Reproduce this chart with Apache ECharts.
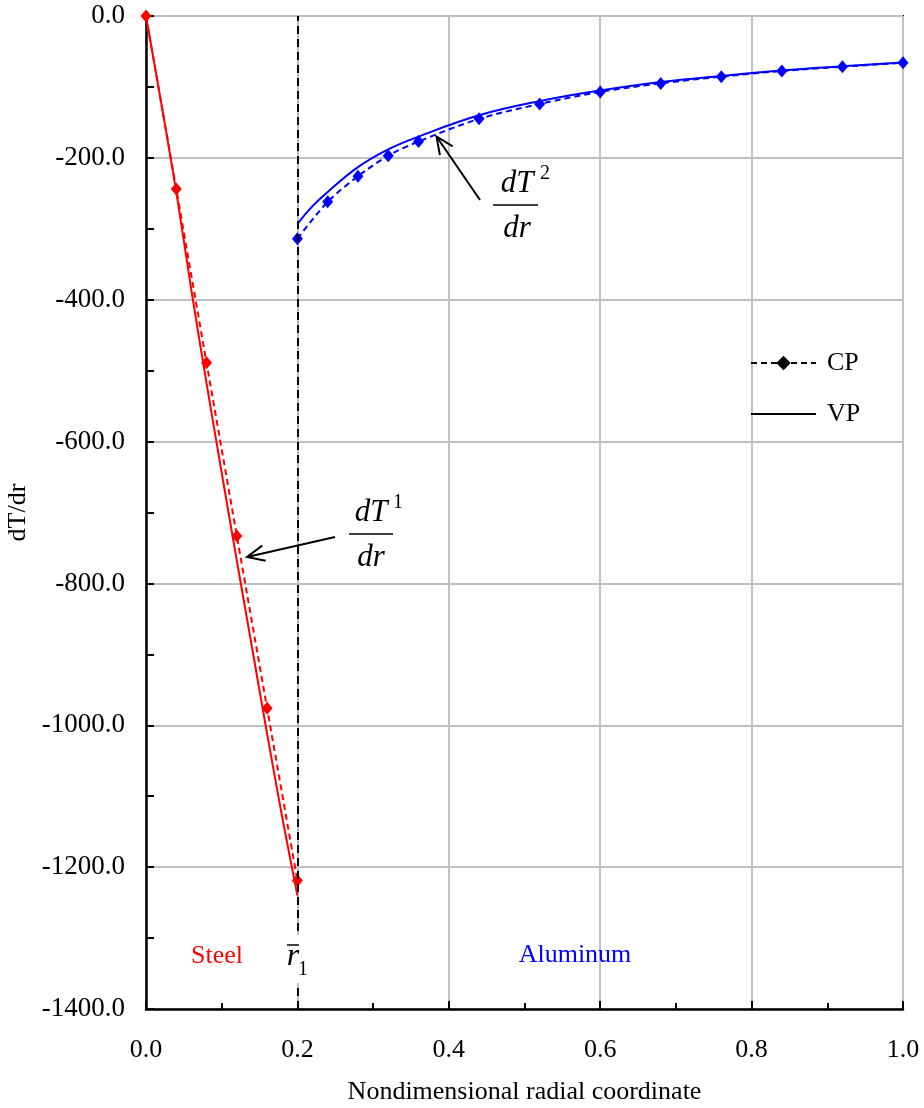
<!DOCTYPE html>
<html>
<head>
<meta charset="utf-8">
<script src="https://cdn.jsdelivr.net/npm/echarts@6/dist/echarts.min.js"></script>
<style>
html,body{margin:0;padding:0;background:#fff;}
#c{width:924px;height:1108px;}
</style>
</head>
<body>
<div id="c"></div>
<script>
// ---- data ----
const xTicks = [0.0, 0.2, 0.4, 0.6, 0.8, 1.0];
const yTicks = [0, -200, -400, -600, -800, -1000, -1200, -1400];
const interfaceR = 0.2;

const steelCP_x = [0, 0.04, 0.08, 0.12, 0.16, 0.20];
const steelCP_y = [0, -244, -489, -733, -976, -1219];

const steelVP_x = [0, 0.02, 0.04, 0.06, 0.08, 0.10, 0.12, 0.14, 0.16, 0.18, 0.20];
const steelVP_y = [0, -122, -248, -387, -518, -644, -768, -890, -1012, -1130, -1240];

const alCP_x = [0.20, 0.24, 0.28, 0.32, 0.36, 0.44, 0.52, 0.60, 0.68, 0.76, 0.84, 0.92, 1.00];
const alCP_y = [-314, -262, -226, -197, -177, -145, -124, -107, -95, -85.5, -77.5, -71.5, -66];

const alVP_x = [0.20, 0.22, 0.24, 0.28, 0.32, 0.36, 0.44, 0.52, 0.60, 0.68, 0.76, 0.84, 0.92, 1.00];
const alVP_y = [-293, -268, -248, -213, -188, -170, -140, -120, -105, -93, -84.5, -77, -71, -65.5];

const legendNames = ['CP', 'VP'];
const xTitle = 'Nondimensional radial coordinate';
const yTitle = 'dT/dr';

// ---- helpers ----
const zip = (xs, ys) => xs.map((x, i) => [x, ys[i]]);
const FONT = "'Liberation Serif','Times New Roman',serif";
const RED = '#ff0000', BLUE = '#0000ff';

function arrow(x1, y1, x2, y2) {
  const ang = Math.atan2(y1 - y2, x1 - x2);
  const L = 19, a = 0.42;
  const p1 = [x2 + L * Math.cos(ang + a), y2 + L * Math.sin(ang + a)];
  const p2 = [x2 + L * Math.cos(ang - a), y2 + L * Math.sin(ang - a)];
  return [
    {type: 'line', z: 100, shape: {x1, y1, x2, y2}, style: {stroke: '#000', lineWidth: 2}},
    {type: 'polyline', z: 100, shape: {points: [p1, [x2, y2], p2]}, style: {stroke: '#000', lineWidth: 2, fill: null}}
  ];
}
function txt(text, x, y, size, opts) {
  opts = opts || {};
  return {type: 'text', z: 101, x: x, y: y, style: {
    text: text, fontSize: size, fontFamily: FONT, fontStyle: opts.italic ? 'italic' : 'normal',
    fill: opts.color || '#000', align: 'center', verticalAlign: 'middle'}};
}
function frac(cx, numY, sup, supX, supY, barY, barX1, barX2, denY) {
  return [
    txt('dT', cx, numY, 31, {italic: true}),
    txt(sup, supX, supY, 20),
    {type: 'line', z: 100, shape: {x1: barX1, y1: barY, x2: barX2, y2: barY}, style: {stroke: '#000', lineWidth: 1.5}},
    txt('dr', cx, denY, 31, {italic: true})
  ];
}

const chart = echarts.init(document.getElementById('c'), null, {renderer: 'canvas'});

const graphics = [].concat(
  // dT2/dr
  frac(517, 184, '2', 545, 174, 205, 493, 538, 229),
  arrow(480, 200, 436.5, 136.5),
  // dT1/dr
  frac(371, 513, '1', 398, 503, 534, 349, 393, 558),
  arrow(335, 537, 247, 557),
  // Steel label
  [{type: 'rect', z: 99, shape: {x: 188, y: 938, width: 77, height: 30}, style: {fill: '#fff'}},
   txt('Steel', 217, 956, 26, {color: RED}),
   // r1 label box
   {type: 'rect', z: 99, shape: {x: 284, y: 935, width: 31, height: 48}, style: {fill: '#fff'}},
   txt('r', 293, 957, 32, {italic: true}),
   txt('1', 303, 970, 20),
   {type: 'line', z: 100, shape: {x1: 287, y1: 945, x2: 299, y2: 945}, style: {stroke: '#000', lineWidth: 1.5}},
   txt('Aluminum', 575, 955, 26, {color: BLUE})]
);

const option = {
  animation: false,
  backgroundColor: '#fff',
  grid: {left: 146, right: 21, top: 16, bottom: 99, outerBoundsMode: 'none', containLabel: false,
         show: true, borderColor: '#000', borderWidth: 2, backgroundColor: 'transparent'},
  legend: {
    data: [{name: 'CP'}, {name: 'VP', itemStyle: {opacity: 0, color: 'rgba(0,0,0,0)', borderWidth: 0}}],
    orient: 'vertical', left: 745, top: 345,
    itemWidth: 65, itemHeight: 18, itemGap: 25,
    textStyle: {fontSize: 26, fontFamily: FONT, color: '#000', padding: [0, 0, 0, 6]}
  },
  xAxis: {
    type: 'value', min: 0, max: 1, interval: 0.2,
    name: xTitle, nameLocation: 'middle', nameGap: 70,
    nameTextStyle: {fontSize: 26, fontFamily: FONT, color: '#000'},
    axisLine: {show: true, onZero: false, lineStyle: {color: '#000', width: 2.5}},
    axisTick: {show: true, inside: true, length: 8, lineStyle: {color: '#000', width: 2}},
    minorTick: {show: true, splitNumber: 2, length: 6, lineStyle: {color: '#000', width: 2}},
    axisLabel: {fontSize: 26, fontFamily: FONT, color: '#000', margin: 28, formatter: v => v.toFixed(1)},
    splitLine: {show: true, lineStyle: {color: '#c0c0c0', width: 2}}
  },
  yAxis: {
    type: 'value', min: -1400, max: 0, interval: 200,
    name: yTitle, nameLocation: 'middle', nameGap: 115, nameRotate: 90,
    nameTextStyle: {fontSize: 26, fontFamily: FONT, color: '#000'},
    axisLine: {show: true, onZero: false, lineStyle: {color: '#000', width: 2.5}},
    axisTick: {show: true, inside: true, length: 8, lineStyle: {color: '#000', width: 2}},
    minorTick: {show: true, splitNumber: 2, length: 8, lineStyle: {color: '#000', width: 2}},
    axisLabel: {fontSize: 27, fontFamily: FONT, color: '#000', margin: 21, formatter: v => v.toFixed(1)},
    splitLine: {show: true, lineStyle: {color: '#c0c0c0', width: 2}}
  },
  series: [
    {name: 'Steel VP', type: 'line', data: zip(steelVP_x, steelVP_y), smooth: 0.3, symbol: 'none',
     lineStyle: {color: RED, width: 2}, z: 3},
    {name: 'Steel CP', type: 'line', data: zip(steelCP_x, steelCP_y), symbol: 'diamond', symbolSize: [11, 13],
     itemStyle: {color: RED}, lineStyle: {color: RED, width: 2, type: [6, 4]}, z: 4,
     markLine: {silent: true, symbol: 'none', label: {show: false},
       lineStyle: {color: '#000', width: 2, type: [8, 5]}, data: [{xAxis: interfaceR}]}},
    {name: 'Al VP', type: 'line', data: zip(alVP_x, alVP_y), smooth: 0.4, symbol: 'none',
     lineStyle: {color: BLUE, width: 2}, z: 3},
    {name: 'Al CP', type: 'line', data: zip(alCP_x, alCP_y), smooth: 0.3, symbol: 'diamond', symbolSize: [11, 13],
     itemStyle: {color: BLUE}, lineStyle: {color: BLUE, width: 2, type: [6, 4]}, z: 4},
    {name: 'CP', type: 'line', data: [], symbol: 'diamond', symbolSize: [13, 15],
     itemStyle: {color: '#000'}, lineStyle: {color: '#000', width: 2, type: [6, 4]}},
    {name: 'VP', type: 'line', data: [], symbol: 'none',
     itemStyle: {color: '#000'}, lineStyle: {color: '#000', width: 2}}
  ],
  graphic: graphics
};
chart.setOption(option);
</script>
</body>
</html>
